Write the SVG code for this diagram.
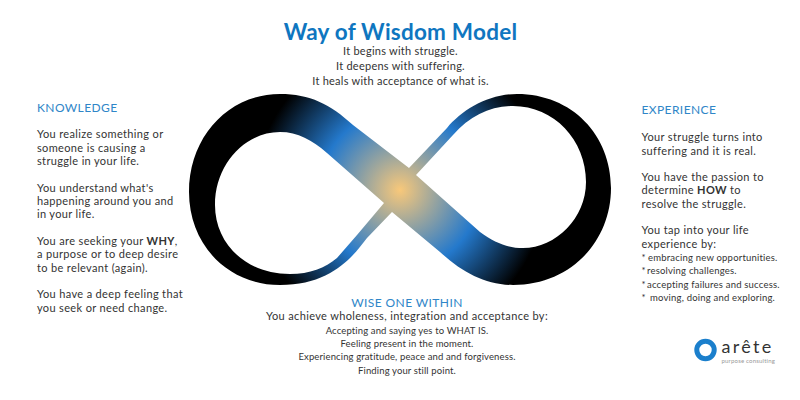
<svg xmlns="http://www.w3.org/2000/svg" width="800" height="400" viewBox="0 0 800 400">
<style>
text{font-family:"Lato","Open Sans","Liberation Sans",sans-serif;fill:#333}
.b{font-size:11px;letter-spacing:.35px}
.t{font-size:11px;letter-spacing:.25px}
.s{font-size:9.5px;letter-spacing:.13px}
.r{font-size:9.5px;letter-spacing:.2px}
.h{font-size:12px;fill:#2f86c8;letter-spacing:.4px}
.c{text-anchor:middle}
</style>
<defs>
<radialGradient id="g" gradientUnits="userSpaceOnUse" cx="400" cy="190" r="145">
<stop offset="0" stop-color="#f8c87a"/><stop offset=".55" stop-color="#2479cc"/><stop offset="1" stop-color="#000"/>
</radialGradient>
</defs>
<rect width="800" height="400" fill="#fff"/>
<g id="infinity">
<path fill="url(#g)" fill-rule="evenodd" d="M409 168L447 128C462 110 488 94 517 94C572 94 611 135 611 188C611 242 570 285 513 285C485 285 462 272 440 252L392 212L367 238C352 258 330 285 280 285C228 285 189 245 189 192C189 137 228 94 280 94C310 94 330 104 353 125ZM384 203L327 153C312 140 298 132 280 132C245 132 215 164 215 205C215 243 245 274 290 274C310 274 325 268 337 258L357 235ZM416 175L453 135C470 116 490 106 513 106C554 106 586 140 586 182C586 218 556 248 523 248C508 248 495 243 480 232Z"/>
</g>
<g id="title">
<text x="400.5" y="39.5" class="c" style="font-size:22.5px;font-weight:700;fill:#0f76c0;letter-spacing:.23px">Way of Wisdom Model</text>
<text x="400.5" y="55" class="t c">It begins with struggle.</text>
<text x="400.5" y="70" class="t c">It deepens with suffering.</text>
<text x="400.5" y="85" class="t c">It heals with acceptance of what is.</text>
</g>
<g id="knowledge">
<text x="37" y="111.5" class="h">KNOWLEDGE</text>
<text x="37" y="138.3" class="b">You realize something or</text>
<text x="37" y="151.7" class="b">someone is causing a</text>
<text x="37" y="165" class="b">struggle in your life.</text>
<text x="37" y="191.7" class="b">You understand what's</text>
<text x="37" y="205" class="b">happening around you and</text>
<text x="37" y="218.3" class="b">in your life.</text>
<text x="37" y="245" class="b">You are seeking your <tspan font-weight="700">WHY</tspan>,</text>
<text x="37" y="258.3" class="b">a purpose or to deep desire</text>
<text x="37" y="271.7" class="b">to be relevant (again).</text>
<text x="37" y="298.3" class="b">You have a deep feeling that</text>
<text x="37" y="311.7" class="b">you seek or need change.</text>
</g>
<g id="experience">
<text x="641.5" y="114" class="h">EXPERIENCE</text>
<text x="641.5" y="141.3" class="b">Your struggle turns into</text>
<text x="641.5" y="154.6" class="b">suffering and it is real.</text>
<text x="641.5" y="181" class="b">You have the passion to</text>
<text x="641.5" y="194.3" class="b">determine <tspan font-weight="700">HOW</tspan> to</text>
<text x="641.5" y="207.6" class="b">resolve the struggle.</text>
<text x="641.5" y="234" class="b">You tap into your life</text>
<text x="641.5" y="247.6" class="b">experience by:</text>
<text x="641.5" y="261" class="r">* <tspan x="648">embracing new opportunities.</tspan></text>
<text x="641.5" y="274" class="r">* <tspan x="647">resolving challenges.</tspan></text>
<text x="641.5" y="287.5" class="r">* <tspan x="647">accepting failures and success.</tspan></text>
<text x="641.5" y="301" class="r">* <tspan x="650">moving, doing and exploring.</tspan></text>
</g>
<g id="wise">
<text x="407" y="306.5" class="h c">WISE ONE WITHIN</text>
<text x="407" y="320" class="b c">You achieve wholeness, integration and acceptance by:</text>
<text x="407" y="333.5" class="s c">Accepting and saying yes to WHAT IS.</text>
<text x="407" y="347" class="s c">Feeling present in the moment.</text>
<text x="407" y="360" class="s c">Experiencing gratitude, peace and and forgiveness.</text>
<text x="407" y="373.5" class="s c">Finding your still point.</text>
</g>
<g id="logo">
<circle cx="705.5" cy="350" r="8.7" fill="none" stroke="#1b7fcc" stroke-width="5"/>
<text x="721.5" y="353" style="font-size:18px;letter-spacing:2.3px;fill:#333">arête</text>
<text x="721.5" y="363" style="font-size:6px;fill:#999;letter-spacing:.2px">purpose consulting</text>
</g>
</svg>
